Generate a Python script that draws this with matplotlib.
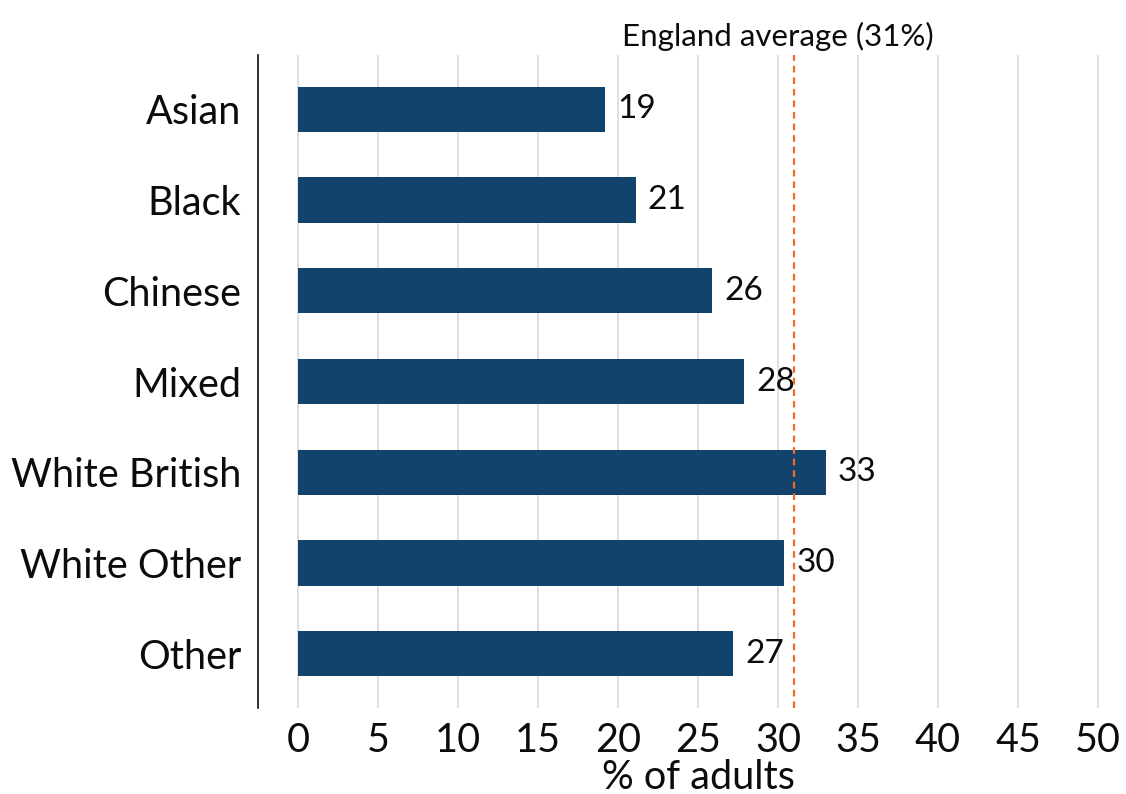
import matplotlib.pyplot as plt

# Données
groups = ["Asian", "Black", "Chinese", "Mixed", "White British", "White Other", "Other"]
values = [19.2, 21.1, 25.9, 27.9, 33.0, 30.4, 27.2]
labels = ["19", "21", "26", "28", "33", "30", "27"]
england_avg = 31
xticks = [0, 5, 10, 15, 20, 25, 30, 35, 40, 45, 50]

plt.rcParams['font.family'] = ['Lato', 'DejaVu Sans']

fig = plt.figure(figsize=(11.26, 7.94), dpi=100)
ax = fig.add_axes([0.229, 0.108, 0.749, 0.823])

pos = list(range(len(groups)))
ax.barh(pos, values, height=0.5, color='#12436D', zorder=3)

# Valeurs au bout des barres
for p, v, lab in zip(pos, values, labels):
    ax.text(v + 0.75, p, lab, va='center', ha='left', fontsize=24, color='#0b0c0c', zorder=4)

# Ligne de la moyenne
ax.axvline(england_avg, color='#F46A25', linestyle=(0, (3, 2.2)), linewidth=1.6, zorder=4)
ax.text(30, 1.006, "England average (31%)", transform=ax.get_xaxis_transform(),
        ha='center', va='bottom', fontsize=22.5, color='#0b0c0c')

ax.set_xlim(-2.5, 50.2)
ax.set_ylim(len(groups) - 0.4, -0.6)
ax.set_yticks(pos)
ax.set_yticklabels(groups)
ax.set_xticks(xticks)
ax.tick_params(axis='both', length=0, labelsize=28.5, colors='#0b0c0c')
ax.tick_params(axis='y', pad=12)
ax.tick_params(axis='x', pad=10)

ax.grid(axis='x', color='#d9d9d9', linewidth=1.2, zorder=0)
ax.set_axisbelow(True)
for s in ['top', 'right', 'bottom']:
    ax.spines[s].set_visible(False)
ax.spines['left'].set_linewidth(1.2)
ax.spines['left'].set_color('#0b0c0c')

ax.set_xlabel("% of adults", fontsize=28.5, color='#0b0c0c', labelpad=0)
ax.xaxis.set_label_coords((25 + 2.5) / 52.7, -0.077)

plt.savefig("out.png", dpi=100)
